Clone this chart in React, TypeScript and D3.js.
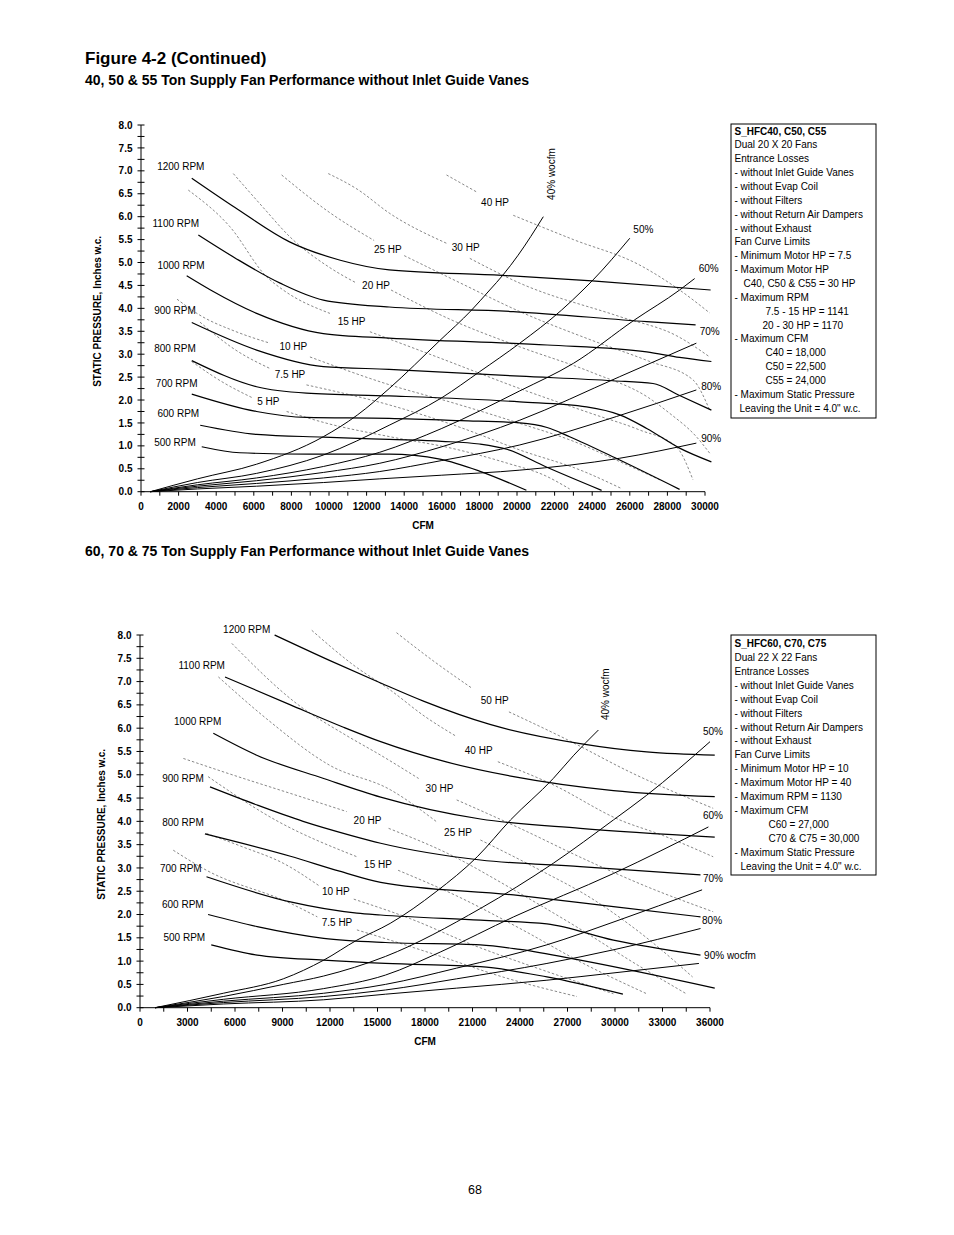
import React from 'react';
import * as d3 from 'd3';

type Pt = [number, number];

const FONT = 'Liberation Sans, Arial, Helvetica, sans-serif';

// ================= TOP CHART: 40, 50 & 55 Ton =================
const topXTicks = [0, 2000, 4000, 6000, 8000, 10000, 12000, 14000, 16000, 18000, 20000, 22000, 24000, 26000, 28000, 30000];
const yTicks = [0, 0.5, 1, 1.5, 2, 2.5, 3, 3.5, 4, 4.5, 5, 5.5, 6, 6.5, 7, 7.5, 8];

// RPM curves (solid)
const t1200: Pt[] = [[2700, 6.84], [5000, 6.2], [7900, 5.45], [10600, 5.05], [13200, 4.84], [19200, 4.72], [24000, 4.6], [30300, 4.4]];
const t1100: Pt[] = [[3050, 5.6], [5000, 5.1], [7400, 4.55], [9700, 4.18], [13200, 4.03], [19800, 3.93], [26900, 3.71], [29500, 3.64]];
const t1000: Pt[] = [[2430, 4.71], [3700, 4.4], [6150, 3.89], [9700, 3.45], [13200, 3.35], [21600, 3.2], [26900, 3.05], [28650, 2.93], [30340, 2.84]];
const t900: Pt[] = [[2700, 3.69], [6150, 3.09], [9700, 2.73], [13200, 2.67], [20150, 2.52], [25100, 2.42], [27235, 2.36], [28650, 2.1], [30340, 1.78]];
const t800: Pt[] = [[2700, 2.86], [6150, 2.29], [8800, 2.15], [13200, 2.09], [20150, 1.96], [23700, 1.85], [25500, 1.67], [26900, 1.38], [28650, 0.95], [30340, 0.65]];
const t700: Pt[] = [[2700, 2.13], [6150, 1.75], [8800, 1.62], [13200, 1.6], [17000, 1.55], [20150, 1.5], [21600, 1.4], [22800, 1.2], [25465, 0.69], [28650, 0.05]];
const t600: Pt[] = [[3150, 1.45], [6150, 1.25], [9700, 1.19], [13200, 1.14], [16000, 1.1], [18000, 1.04], [19500, 0.92], [21500, 0.55], [24500, 0.03]];
const t500: Pt[] = [[3230, 0.98], [5260, 0.85], [9000, 0.82], [13200, 0.82], [15900, 0.71], [18000, 0.45], [20500, 0.03]];
const topRpmCurves = [t1200, t1100, t1000, t900, t800, t700, t600, t500];

// System curves (% wide open cfm)
const t40pct: Pt[] = [[500, 0], [3000, 0.28], [6150, 0.6], [9700, 1.2], [11500, 1.67], [13200, 2.25], [15900, 3.3], [17580, 3.96], [18550, 4.4], [19260, 4.73], [20060, 5.16], [21400, 6.0]];
const t50pct: Pt[] = [[500, 0], [3000, 0.2], [6150, 0.4], [9700, 0.8], [13200, 1.45], [16000, 2.05], [18020, 2.62], [20150, 3.24], [22365, 3.96], [23510, 4.4], [24045, 4.62], [26000, 5.53]];
const t60pct: Pt[] = [[500, 0], [3000, 0.15], [6150, 0.3], [9700, 0.55], [12700, 0.86], [16000, 1.38], [20150, 2.2], [23000, 2.8], [26260, 3.75], [28650, 4.4], [29450, 4.65]];
const t70pct: Pt[] = [[500, 0], [3000, 0.12], [6150, 0.24], [9700, 0.42], [12700, 0.62], [16000, 0.98], [20150, 1.56], [25465, 2.51], [29540, 3.24]];
const t80pct: Pt[] = [[500, 0], [3000, 0.09], [6150, 0.18], [9700, 0.3], [12700, 0.44], [16000, 0.68], [20150, 1.02], [25290, 1.64], [29540, 2.22]];
const t90pct: Pt[] = [[500, 0], [3000, 0.06], [6150, 0.12], [9700, 0.2], [12700, 0.28], [16000, 0.36], [20150, 0.47], [25465, 0.73], [29540, 1.06]];
const topSystemCurves = [t40pct, t50pct, t60pct, t70pct, t80pct, t90pct];

// Horsepower curves (dashed), each split around its label
const t40hp: Pt[][] = [[[16250, 6.91], [17850, 6.54]], [[19800, 6.03], [23000, 5.5], [26500, 4.95], [28650, 4.4], [30250, 3.9]]];
const t30hp: Pt[][] = [[[9960, 6.94], [11500, 6.6], [13237, 6.07], [16250, 5.42]], [[17490, 5.09], [20150, 4.55], [25465, 3.82], [28500, 3.4], [30250, 2.94]]];
const t25hp: Pt[][] = [[[7480, 6.91], [10000, 6.1], [12400, 5.48]], [[14000, 5.15], [17000, 4.55], [20150, 3.93], [24000, 3.3], [27000, 2.85], [29360, 2.44], [30250, 1.78]]];
const t20hp: Pt[][] = [[[4910, 6.94], [6500, 6.2], [7920, 5.56], [10000, 4.9], [11470, 4.55]], [[13300, 4.4], [16500, 3.75], [20150, 3.16], [24000, 2.6], [27000, 2.05], [28120, 1.71], [29540, 1.2], [30250, 0.84]]];
const t15hp: Pt[][] = [[[2515, 6.58], [4730, 5.78], [6680, 4.69], [7565, 4.4], [10050, 3.89]], [[12175, 3.49], [16000, 2.9], [20150, 2.25], [24000, 1.7], [26500, 1.35], [28475, 0.98], [29360, 0.26]]];
const t10hp: Pt[][] = [[[1915, 4.2], [3136, 3.85], [5000, 3.5], [6860, 3.24]], [[8985, 2.94], [13237, 2.33], [16500, 1.95], [20150, 1.49], [23000, 1.1], [25500, 0.65], [27590, 0.26]]];
const t75hp: Pt[][] = [[[3136, 3.7], [5000, 3.1], [6900, 2.68]], [[8800, 2.33], [13237, 1.89], [17000, 1.4], [20150, 0.91], [23500, 0.45], [25500, 0.08]]];
const t5hp: Pt[][] = [[[2695, 2.84], [4300, 2.4], [5970, 2.04]], [[7745, 1.75], [10000, 1.48], [13237, 1.2], [16500, 0.95], [19500, 0.62], [21500, 0.35], [22800, 0.06]]];
const topHpCurves = [t40hp, t30hp, t25hp, t20hp, t15hp, t10hp, t75hp, t5hp];

// Label anchors (data units: cfm, in. w.c.)
const topRpmLabels: [string, number, number][] = [
  ['1200 RPM', 2117, 7.09], ['1100 RPM', 1851, 5.85], ['1000 RPM', 2128, 4.93], ['900 RPM', 1808, 3.96],
  ['800 RPM', 1808, 3.13], ['700 RPM', 1898, 2.36], ['600 RPM', 1984, 1.71], ['500 RPM', 1808, 1.07],
];
const topHpLabels: [string, number, number][] = [
  ['40 HP', 18830, 6.31], ['30 HP', 17270, 5.34], ['25 HP', 13130, 5.29], ['20 HP', 12500, 4.51],
  ['15 HP', 11200, 3.72], ['10 HP', 8100, 3.16], ['7.5 HP', 7926, 2.56], ['5 HP', 6770, 1.96],
];
const topPctLabels: [string, number, number][] = [
  ['50%', 26720, 5.73], ['60%', 30200, 4.88], ['70%', 30250, 3.49], ['80%', 30330, 2.29], ['90%', 30330, 1.17],
];
const topWocfmLabel: [string, number, number] = ['40% wocfm', 21810, 6.93];

const topNotes = [
  'S_HFC40, C50, C55', 'Dual 20 X 20 Fans', 'Entrance Losses', '- without Inlet Guide Vanes', '- without Evap Coil',
  '- without Filters', '- without Return Air Dampers', '- without Exhaust', 'Fan Curve Limits', '- Minimum Motor HP = 7.5',
  '- Maximum Motor HP', 'C40, C50 & C55 = 30 HP', '- Maximum RPM', '7.5 - 15 HP = 1141', '20 - 30 HP = 1170',
  '- Maximum CFM', 'C40 = 18,000', 'C50 = 22,500', 'C55 = 24,000', '- Maximum Static Pressure', 'Leaving the Unit = 4.0" w.c.',
];
const topNoteIndent = [0, 0, 0, 0, 0, 0, 0, 0, 0, 0, 0, 9, 0, 31, 28, 0, 31, 31, 31, 0, 5];

// ================= BOTTOM CHART: 60, 70 & 75 Ton =================
const botXTicks = [0, 3000, 6000, 9000, 12000, 15000, 18000, 21000, 24000, 27000, 30000, 33000, 36000];

const b1200: Pt[] = [[8500, 8.0], [12000, 7.45], [15200, 6.97], [17900, 6.58], [22100, 6.08], [27800, 5.67], [32000, 5.49], [36300, 5.42]];
const b1100: Pt[] = [[5370, 7.1], [9500, 6.5], [12850, 6.02], [15200, 5.71], [19400, 5.27], [23600, 4.96], [29900, 4.66], [36300, 4.53]];
const b1000: Pt[] = [[4630, 5.89], [7370, 5.42], [11600, 4.92], [15200, 4.52], [21500, 4.05], [27800, 3.85], [36300, 3.66]];
const b900: Pt[] = [[4420, 4.74], [7400, 4.35], [10300, 4.0], [13300, 3.7], [15200, 3.53], [21500, 3.17], [27800, 3.03], [35400, 2.85]];
const b800: Pt[] = [[4100, 3.73], [9500, 3.25], [12600, 2.93], [15200, 2.69], [23600, 2.42], [29900, 2.17], [35400, 1.95]];
const b700: Pt[] = [[4200, 2.81], [9500, 2.27], [13700, 2.03], [15200, 1.99], [21500, 1.88], [25700, 1.8], [29900, 1.45], [35400, 1.13]];
const b600: Pt[] = [[4300, 2.0], [7400, 1.74], [11600, 1.49], [15500, 1.4], [21500, 1.35], [24000, 1.25], [27800, 1.02], [36300, 0.42]];
const b500: Pt[] = [[4500, 1.35], [7400, 1.13], [11600, 1.02], [15500, 0.95], [21500, 0.88], [25700, 0.66], [30500, 0.29]];
const botRpmCurves = [b1200, b1100, b1000, b900, b800, b700, b600, b500];

const b40pct: Pt[] = [[950, 0], [5260, 0.31], [9050, 0.62], [11600, 1.02], [13700, 1.45], [15800, 1.81], [18700, 2.49], [21300, 3.24], [23400, 4.03], [26100, 4.92], [27400, 5.42], [28950, 5.96]];
const b50pct: Pt[] = [[950, 0], [5260, 0.24], [9050, 0.5], [11600, 0.68], [15500, 1.1], [21500, 2.13], [26100, 3.1], [29900, 4.03], [32000, 4.56], [36000, 5.71]];
const b60pct: Pt[] = [[950, 0], [5260, 0.18], [11600, 0.41], [15500, 0.7], [19000, 1.2], [23600, 1.95], [29900, 2.88], [35900, 3.88]];
const b70pct: Pt[] = [[950, 0], [5260, 0.14], [11600, 0.31], [15500, 0.5], [20000, 0.85], [25700, 1.35], [30000, 1.85], [35500, 2.53]];
const b80pct: Pt[] = [[950, 0], [5260, 0.11], [11600, 0.24], [15500, 0.38], [20000, 0.62], [25700, 0.95], [30000, 1.25], [35400, 1.7]];
const b90pct: Pt[] = [[950, 0], [5260, 0.08], [11600, 0.17], [15500, 0.29], [20000, 0.42], [25700, 0.59], [30000, 0.75], [35300, 0.95]];
const botSystemCurves = [b40pct, b50pct, b60pct, b70pct, b80pct, b90pct];

const b50hp: Pt[][] = [[[16200, 8.05], [18500, 7.45], [21000, 6.85]], [[23300, 6.35], [27000, 5.75], [31000, 5.05], [36200, 4.28]]];
const b40hp: Pt[][] = [[[10850, 8.1], [13500, 7.35], [15800, 6.82], [18000, 6.25], [20000, 5.82]], [[22600, 5.28], [26000, 4.8], [30300, 4.03], [33000, 3.7], [36200, 3.24]]];
const b30hp: Pt[][] = [[[5800, 7.82], [10000, 6.5], [13000, 5.85], [15200, 5.42], [17600, 4.92]], [[20000, 4.46], [24000, 3.85], [28000, 3.2], [32000, 2.6], [36200, 2.06]]];
const b25hp: Pt[][] = [[[4950, 7.1], [8000, 6.2], [12000, 5.2], [15800, 4.68], [18700, 4.0]], [[21500, 3.6], [25000, 3.0], [28500, 2.35], [32000, 1.5], [34900, 0.66]]];
const b20hp: Pt[][] = [[[2740, 5.35], [6000, 4.98], [9500, 4.6], [13050, 4.21]], [[15700, 3.85], [19500, 3.3], [23500, 2.55], [27500, 1.75], [31500, 0.9], [34500, 0.3]]];
const b15hp: Pt[][] = [[[4300, 4.96], [8600, 4.02], [13700, 3.24]], [[16300, 2.95], [20000, 2.4], [24000, 1.7], [28000, 0.95], [32000, 0.3]]];
const b10hp: Pt[][] = [[[4200, 3.74], [6500, 3.45], [9050, 3.1], [11300, 2.62]], [[13500, 2.33], [17000, 1.92], [21000, 1.35], [25500, 0.8], [29900, 0.3]]];
const b75hp: Pt[][] = [[[2100, 3.38], [4200, 2.95], [9500, 2.24], [11200, 1.95]], [[13700, 1.67], [15800, 1.45], [19000, 1.1], [23000, 0.65], [27600, 0.24]]];
const botHpCurves = [b50hp, b40hp, b30hp, b25hp, b20hp, b15hp, b10hp, b75hp];

const botRpmLabels: [string, number, number][] = [
  ['1200 RPM', 6740, 8.12], ['1100 RPM', 3897, 7.34], ['1000 RPM', 3644, 6.14], ['900 RPM', 2716, 4.92],
  ['800 RPM', 2716, 3.97], ['700 RPM', 2577, 2.99], ['600 RPM', 2703, 2.22], ['500 RPM', 2798, 1.51],
];
const botHpLabels: [string, number, number][] = [
  ['50 HP', 22403, 6.59], ['40 HP', 21392, 5.53], ['30 HP', 18917, 4.7], ['25 HP', 20085, 3.77],
  ['20 HP', 14369, 4.01], ['15 HP', 15032, 3.08], ['10 HP', 12368, 2.5], ['7.5 HP', 12442, 1.83],
];
const botPctLabels: [string, number, number][] = [
  ['50%', 36190, 5.94], ['60%', 36190, 4.12], ['70%', 36190, 2.78], ['80%', 36130, 1.88], ['90% wocfm', 37260, 1.13],
];
const botWocfmLabel: [string, number, number] = ['40% wocfm', 29420, 6.73];

const botNotes = [
  'S_HFC60, C70, C75', 'Dual 22 X 22 Fans', 'Entrance Losses', '- without Inlet Guide Vanes', '- without Evap Coil',
  '- without Filters', '- without Return Air Dampers', '- without Exhaust', 'Fan Curve Limits', '- Minimum Motor HP = 10',
  '- Maximum Motor HP = 40', '- Maximum RPM = 1130', '- Maximum CFM', 'C60 = 27,000', 'C70 & C75 = 30,000',
  '- Maximum Static Pressure', 'Leaving the Unit = 4.0" w.c.',
];
const botNoteIndent = [0, 0, 0, 0, 0, 0, 0, 0, 0, 0, 0, 0, 0, 34, 34, 0, 6];

interface ChartProps {
  xMax: number;
  xTicks: number[];
  xMinorStep: number;
  xRange: [number, number];
  yRange: [number, number];
  rpm: Pt[][];
  sys: Pt[][];
  hp: Pt[][][];
  rpmLabels: [string, number, number][];
  hpLabels: [string, number, number][];
  pctLabels: [string, number, number][];
  wocfm: [string, number, number];
  yTitleX: number;
  notes: string[];
  noteIndent: number[];
  box: { x: number; y: number; w: number; h: number; first: number; step: number };
}

function FanChart(p: ChartProps) {
  const x = d3.scaleLinear().domain([0, p.xMax]).range(p.xRange);
  const y = d3.scaleLinear().domain([0, 8]).range(p.yRange);
  const line = d3.line<Pt>().x(d => x(d[0])).y(d => y(d[1])).curve(d3.curveMonotoneX);
  const x0 = x(0);
  const y0 = y(0);
  const yMinor = d3.range(0, 8.001, 0.25);
  const xMinor = d3.range(0, p.xMax + 1, p.xMinorStep);
  const txt = { fontFamily: FONT, fill: '#000' } as const;
  return (
    <g>
      {/* axes */}
      <line x1={x0} x2={x0} y1={y(0)} y2={y(8)} stroke="#000" strokeWidth={1} />
      <line x1={x0} x2={x(p.xMax)} y1={y0} y2={y0} stroke="#000" strokeWidth={1} />
      {yMinor.map((v, i) => (
        <line key={'yt' + i} x1={x0 - 3.5} x2={x0 + 3.5} y1={y(v)} y2={y(v)} stroke="#000" strokeWidth={1} />
      ))}
      {xMinor.map((v, i) => (
        <line key={'xt' + i} x1={x(v)} x2={x(v)} y1={y0} y2={y0 + 4} stroke="#000" strokeWidth={1} />
      ))}
      {yTicks.map((v, i) => (
        <text key={'yl' + i} x={x0 - 8.5} y={y(v) + 3.6} textAnchor="end" fontSize={10} fontWeight="bold" {...txt}>
          {v.toFixed(1)}
        </text>
      ))}
      {p.xTicks.map((v, i) => (
        <text key={'xl' + i} x={x(v)} y={y0 + 18} textAnchor="middle" fontSize={10} fontWeight="bold" {...txt}>
          {v}
        </text>
      ))}
      <text x={x(p.xMax / 2) + 0} y={y0 + 37} textAnchor="middle" fontSize={10} fontWeight="bold" {...txt}>CFM</text>
      <text transform={`translate(${p.yTitleX},${(y(0) + y(8)) / 2 + 3}) rotate(-90)`} textAnchor="middle" fontSize={10} fontWeight="bold" {...txt}>
        STATIC PRESSURE, Inches w.c.
      </text>

      {/* horsepower curves */}
      {p.hp.map((segs, i) =>
        segs.map((s, j) => (
          <path key={'hp' + i + '-' + j} d={line(s) || ''} fill="none" stroke="#6a6a6a" strokeWidth={0.8} strokeDasharray="2.5,2" />
        ))
      )}
      {/* system curves */}
      {p.sys.map((s, i) => (
        <path key={'sys' + i} d={line(s) || ''} fill="none" stroke="#000" strokeWidth={1} />
      ))}
      {/* rpm curves */}
      {p.rpm.map((s, i) => (
        <path key={'rpm' + i} d={line(s) || ''} fill="none" stroke="#000" strokeWidth={1.2} />
      ))}

      {/* labels */}
      {[...p.rpmLabels, ...p.hpLabels, ...p.pctLabels].map(([t, cx, cy], i) => (
        <text key={'lb' + i} x={x(cx)} y={y(cy) + 3.6} textAnchor="middle" fontSize={10} {...txt}>{t}</text>
      ))}
      <text transform={`translate(${x(p.wocfm[1]) + 3.6},${y(p.wocfm[2])}) rotate(-90)`} textAnchor="middle" fontSize={10} {...txt}>
        {p.wocfm[0]}
      </text>

      {/* notes box */}
      <rect x={p.box.x} y={p.box.y} width={p.box.w} height={p.box.h} fill="#fff" stroke="#000" strokeWidth={1} />
      {p.notes.map((t, i) => (
        <text key={'nt' + i} x={p.box.x + 3.5 + p.noteIndent[i]} y={p.box.first + i * p.box.step + 3.6} fontSize={10}
          fontWeight={i === 0 ? 'bold' : 'normal'} {...txt}>{t}</text>
      ))}
    </g>
  );
}

export default function App() {
  return (
    <svg width={954} height={1235} viewBox="0 0 954 1235" style={{ position: 'absolute', left: 0, top: 0, background: '#fff' }}>
      <rect x={0} y={0} width={954} height={1235} fill="#fff" />
      <text x={85} y={64} fontFamily={FONT} fontSize={17} fontWeight="bold">Figure 4-2 (Continued)</text>
      <text x={85} y={84.5} fontFamily={FONT} fontSize={14} fontWeight="bold">40, 50 &amp; 55 Ton Supply Fan Performance without Inlet Guide Vanes</text>
      <text x={85} y={556} fontFamily={FONT} fontSize={14} fontWeight="bold">60, 70 &amp; 75 Ton Supply Fan Performance without Inlet Guide Vanes</text>
      <FanChart
        xMax={30000} xTicks={topXTicks} xMinorStep={1000} xRange={[141, 705]} yRange={[491.7, 125]}
        rpm={topRpmCurves} sys={topSystemCurves} hp={topHpCurves}
        rpmLabels={topRpmLabels} hpLabels={topHpLabels} pctLabels={topPctLabels} wocfm={topWocfmLabel}
        yTitleX={101} notes={topNotes} noteIndent={topNoteIndent}
        box={{ x: 731, y: 124, w: 145, h: 294, first: 131, step: 13.85 }}
      />
      <FanChart
        xMax={36000} xTicks={botXTicks} xMinorStep={1500} xRange={[140, 710]} yRange={[1007.7, 635]}
        rpm={botRpmCurves} sys={botSystemCurves} hp={botHpCurves}
        rpmLabels={botRpmLabels} hpLabels={botHpLabels} pctLabels={botPctLabels} wocfm={botWocfmLabel}
        yTitleX={105} notes={botNotes} noteIndent={botNoteIndent}
        box={{ x: 731, y: 635, w: 145, h: 240, first: 643.5, step: 13.9 }}
      />
      <text x={475} y={1193.5} textAnchor="middle" fontFamily={FONT} fontSize={12.5}>68</text>
    </svg>
  );
}
